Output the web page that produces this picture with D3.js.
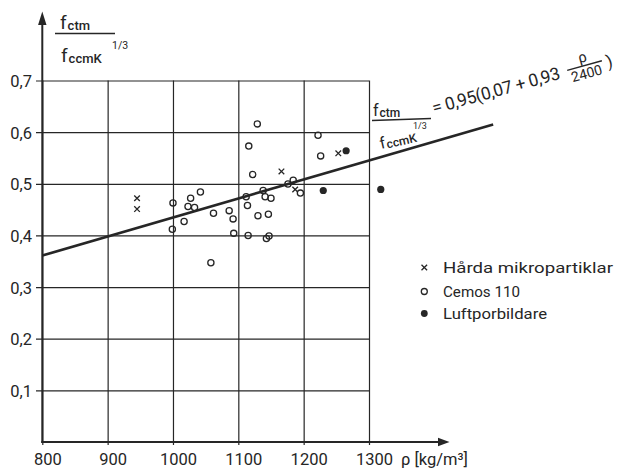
<!DOCTYPE html>
<html>
<head>
<meta charset="utf-8">
<script src="https://cdn.jsdelivr.net/npm/d3@7"></script>
<style>
  html, body { margin: 0; padding: 0; background: #ffffff; }
  svg { display: block; }
  text { font-family: Roboto, "DejaVu Sans", sans-serif; fill: #262626; }
</style>
</head>
<body>
<svg id="chart" width="618" height="471"></svg>
<script>
// ---------- data ----------
const xAllTicks = [800, 900, 1000, 1100, 1200, 1300];
const xAllTickLabels = ["800", "900", "1000", "1100", "1200", "1300"];
const yTicks = [0.1, 0.2, 0.3, 0.4, 0.5, 0.6, 0.7];
const yTickLabels = ["0,1", "0,2", "0,3", "0,4", "0,5", "0,6", "0,7"];

// Hårda mikropartiklar (x markers)
const hardRho = [945, 945, 1166, 1187, 1253];
const hardVal = [0.472, 0.451, 0.524, 0.489, 0.559];

// Cemos 110 (open circles)
const cemosRho = [1129, 1116, 1122, 1042, 1000, 1027, 1023, 1033, 1062, 1086,
                  1092, 1017, 999, 1093, 1115, 1143, 1147, 1058, 1112, 1114,
                  1138, 1141, 1150, 1130, 1146, 1222, 1226, 1184, 1176, 1195];
const cemosVal = [0.616, 0.573, 0.518, 0.484, 0.463, 0.472, 0.456, 0.454, 0.443, 0.448,
                  0.432, 0.427, 0.412, 0.404, 0.400, 0.394, 0.399, 0.347, 0.475, 0.458,
                  0.487, 0.475, 0.472, 0.438, 0.441, 0.594, 0.554, 0.507, 0.4995, 0.482];

// Luftporbildare (filled circles)
const luftRho = [1265, 1230, 1318];
const luftVal = [0.564, 0.487, 0.489];

// regression line end points
const lineRho = [800, 1490];
const lineVal = [0.361, 0.615];

const legendLabels = ["Hårda mikropartiklar", "Cemos 110", "Luftporbildare"];

// ---------- drawing ----------
const svg = d3.select("#chart");
const ink = "#262626";

const x = d3.scaleLinear().domain([800, 1300]).range([42.3, 369]);
const y = d3.scaleLinear().domain([0, 0.7]).range([442, 80.5]);

// horizontal gridlines + y labels
const yAxis = d3.axisLeft(y)
  .tickValues(yTicks)
  .tickFormat((d, i) => yTickLabels[i])
  .tickSizeInner(-(x(1300) - 36))
  .tickSizeOuter(0)
  .tickPadding(4);
const gy = svg.append("g").attr("transform", "translate(36,0)").call(yAxis);
gy.select(".domain").remove();
gy.selectAll(".tick line").attr("stroke", ink).attr("stroke-width", 1.2);
gy.selectAll(".tick text")
  .attr("font-size", 16.5).attr("font-family", "Roboto, sans-serif")
  .attr("fill", ink).attr("dy", "0.36em");

// vertical gridlines + x labels
const xAxis = d3.axisBottom(x)
  .tickValues(xAllTicks)
  .tickFormat((d, i) => xAllTickLabels[i])
  .tickSizeInner(-(445 - y(0.7)))
  .tickSizeOuter(0)
  .tickPadding(8);
const gx = svg.append("g").attr("transform", "translate(0,445)").call(xAxis);
gx.select(".domain").remove();
gx.selectAll(".tick line").attr("stroke", ink).attr("stroke-width", 1.2);
gx.selectAll(".tick text")
  .attr("font-size", 16.5).attr("font-family", "Roboto, sans-serif")
  .attr("fill", ink).attr("dx", 5);

// axes with arrows
svg.append("line").attr("x1", x(800)).attr("x2", x(800))
  .attr("y1", y(0) + 1).attr("y2", 22)
  .attr("stroke", ink).attr("stroke-width", 2);
svg.append("path")
  .attr("d", `M${x(800)},11.5 L${x(800) - 4.2},25 L${x(800) + 4.2},25 Z`)
  .attr("fill", ink);
svg.append("line").attr("x1", x(800) - 1).attr("x2", 441)
  .attr("y1", y(0)).attr("y2", y(0))
  .attr("stroke", ink).attr("stroke-width", 2);
svg.append("path")
  .attr("d", `M449.5,${y(0)} L438,${y(0) - 4.2} L438,${y(0) + 4.2} Z`)
  .attr("fill", ink);

// x axis unit label
svg.append("text").attr("x", 401).attr("y", 465)
  .attr("font-size", 16.5).text("ρ [kg/m³]");

// y axis title (fraction)
const yt = svg.append("g");
yt.append("text").attr("x", 60).attr("y", 29).attr("font-size", 19)
  .text("f").append("tspan").attr("font-size", 13).attr("font-weight", 500)
  .attr("dy", 1).attr("dx", 1).text("ctm");
yt.append("line").attr("x1", 55).attr("x2", 115).attr("y1", 33.5).attr("y2", 33.5)
  .attr("stroke", ink).attr("stroke-width", 1.5);
yt.append("text").attr("x", 61).attr("y", 62).attr("font-size", 19)
  .text("f").append("tspan").attr("font-size", 13).attr("font-weight", 500)
  .attr("dy", 1).attr("dx", 1).text("ccmK");
yt.append("text").attr("x", 112).attr("y", 49).attr("font-size", 10.5)
  .text("1/3");

// regression line
svg.append("path")
  .datum(lineRho.map((r, i) => [r, lineVal[i]]))
  .attr("d", d3.line().x(d => x(d[0])).y(d => y(d[1])))
  .attr("fill", "none").attr("stroke", ink).attr("stroke-width", 2.6);

// equation label
const eq = svg.append("g");
eq.append("text").attr("x", 373).attr("y", 116).attr("font-size", 16)
  .text("f").append("tspan").attr("font-size", 12).attr("font-weight", 500)
  .attr("dy", 1).attr("dx", 1).text("ctm");
eq.append("line").attr("x1", 372).attr("x2", 431).attr("y1", 120.5).attr("y2", 118.5)
  .attr("stroke", ink).attr("stroke-width", 1.4);
eq.append("text").attr("x", 413).attr("y", 128.5).attr("font-size", 9).text("1/3");
eq.append("text").attr("transform", "translate(381,149) rotate(-13)")
  .attr("font-size", 16)
  .text("f").append("tspan").attr("font-size", 12).attr("font-weight", 500)
  .attr("dy", 1).attr("dx", 1).text("ccmK");

const eqr = eq.append("g").attr("transform", "translate(434,114) rotate(-15.5)");
eqr.append("text").attr("x", 0).attr("y", 0).attr("font-size", 17.5)
  .attr("textLength", 132).attr("lengthAdjust", "spacing")
  .text("= 0,95(0,07 + 0,93");
eqr.append("line").attr("x1", 140).attr("x2", 176).attr("y1", -6.5).attr("y2", -6.5)
  .attr("stroke", ink).attr("stroke-width", 1.4);
eqr.append("text").attr("x", 158).attr("y", -10).attr("font-size", 15)
  .attr("text-anchor", "middle").text("ρ");
eqr.append("text").attr("x", 158).attr("y", 6.5).attr("font-size", 14)
  .attr("text-anchor", "middle").text("2400");
eqr.append("text").attr("x", 180).attr("y", 2).attr("font-size", 17).text(")");

// markers
const crossPath = s => `M${-s},${-s} L${s},${s} M${-s},${s} L${s},${-s}`;

svg.append("g").selectAll("path")
  .data(hardRho.map((r, i) => [r, hardVal[i]]))
  .join("path")
  .attr("transform", d => `translate(${x(d[0])},${y(d[1])})`)
  .attr("d", crossPath(2.8))
  .attr("stroke", ink).attr("stroke-width", 1.3).attr("fill", "none");

svg.append("g").selectAll("circle")
  .data(cemosRho.map((r, i) => [r, cemosVal[i]]))
  .join("circle")
  .attr("cx", d => x(d[0])).attr("cy", d => y(d[1])).attr("r", 3.1)
  .attr("fill", "none").attr("stroke", ink).attr("stroke-width", 1.3);

svg.append("g").selectAll("circle")
  .data(luftRho.map((r, i) => [r, luftVal[i]]))
  .join("circle")
  .attr("cx", d => x(d[0])).attr("cy", d => y(d[1])).attr("r", 3.6)
  .attr("fill", ink);

// legend
const legY = [267.5, 291.5, 313.5];
const legW = [170, 77, 104];
const lg = svg.append("g");
lg.append("path").attr("transform", `translate(424.3,${legY[0]})`)
  .attr("d", crossPath(2.8)).attr("stroke", ink).attr("stroke-width", 1.3);
lg.append("circle").attr("cx", 424.3).attr("cy", legY[1]).attr("r", 3)
  .attr("fill", "none").attr("stroke", ink).attr("stroke-width", 1.3);
lg.append("circle").attr("cx", 424.3).attr("cy", legY[2]).attr("r", 3.4)
  .attr("fill", ink);
lg.selectAll("text").data(legendLabels).join("text")
  .attr("x", 443).attr("y", (d, i) => legY[i] + 5)
  .attr("font-size", 14).attr("font-family", "'DejaVu Sans', sans-serif")
  .attr("textLength", (d, i) => legW[i]).attr("lengthAdjust", "spacingAndGlyphs")
  .text(d => d);
</script>
</body>
</html>
